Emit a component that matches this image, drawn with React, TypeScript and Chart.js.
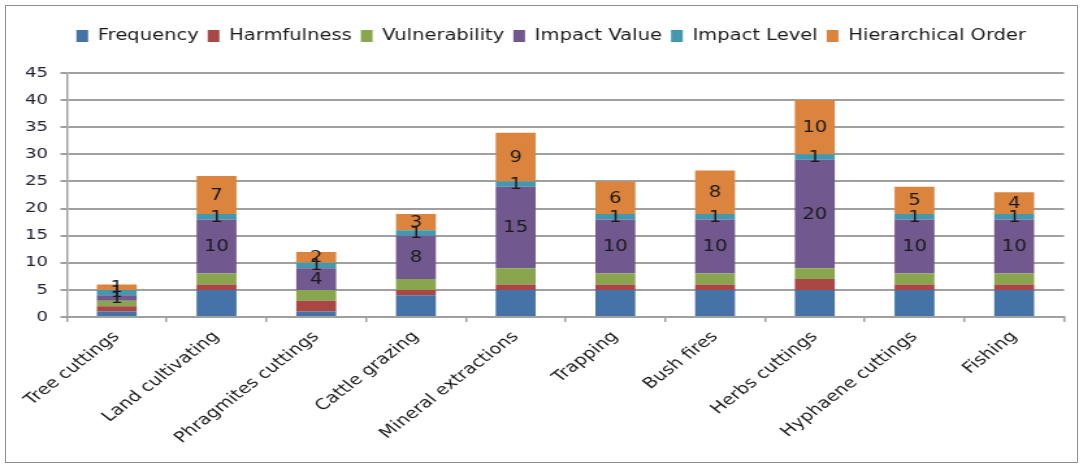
import React, { useEffect, useRef } from "react";
import { Chart, registerables } from "chart.js";

Chart.register(...registerables);

const categories = [
  "Tree cuttings",
  "Land cultivating",
  "Phragmites cuttings",
  "Cattle grazing",
  "Mineral extractions",
  "Trapping",
  "Bush fires",
  "Herbs cuttings",
  "Hyphaene cuttings",
  "Fishing",
];

const frequency = [1, 5, 1, 4, 5, 5, 5, 5, 5, 5];
const harmfulness = [1, 1, 2, 1, 1, 1, 1, 2, 1, 1];
const vulnerability = [1, 2, 2, 2, 3, 2, 2, 2, 2, 2];
const impactValue = [1, 10, 4, 8, 15, 10, 10, 20, 10, 10];
const impactLevel = [1, 1, 1, 1, 1, 1, 1, 1, 1, 1];
const hierarchicalOrder = [1, 7, 2, 3, 9, 6, 8, 10, 5, 4];

const seriesNames = [
  "Frequency",
  "Harmfulness",
  "Vulnerability",
  "Impact Value",
  "Impact Level",
  "Hierarchical Order",
];
const seriesColors = ["#4572A7", "#AA4643", "#89A54E", "#71588F", "#4198AF", "#DB843D"];
const labelledSeries = [3, 4, 5];

const yMin = 0;
const yMax = 45;
const yStep = 5;

// The reference is a chart drawn at a narrower width and stretched horizontally.
const STRETCH = 1.3;
const W = 833;
const H = 468;
const LEGEND_CENTER = 424;

const GRID = "#a0a0a0";
const FONT = "'DejaVu Sans'";

const legendSpacer = {
  id: "legendSpacer",
  beforeInit(chart: any) {
    const legend = chart.legend;
    if (!legend) return;
    const origFit = legend.fit;
    legend.fit = function () {
      origFit.bind(legend)();
      this.height += 19.5;
    };
  },
  afterLayout(chart: any) {
    const legend = chart.legend;
    if (!legend) return;
    const shift = LEGEND_CENTER - (legend.left + legend.right) / 2;
    legend.left += shift;
    legend.right += shift;
  },
};

const valueLabels = {
  id: "valueLabels",
  afterDatasetsDraw(chart: any) {
    const ctx = chart.ctx;
    ctx.save();
    ctx.font = `15px ${FONT}`;
    ctx.fillStyle = "#1a1a1a";
    ctx.textAlign = "center";
    ctx.textBaseline = "middle";
    labelledSeries.forEach((di) => {
      const meta = chart.getDatasetMeta(di);
      meta.data.forEach((el: any, i: number) => {
        const v = chart.data.datasets[di].data[i];
        const y = (el.y + el.base) / 2;
        ctx.fillText(String(v), el.x, y + 1);
      });
    });
    ctx.restore();
  },
};

export default function App() {
  const ref = useRef<HTMLCanvasElement | null>(null);

  useEffect(() => {
    if (!ref.current) return;
    const seriesData = [frequency, harmfulness, vulnerability, impactValue, impactLevel, hierarchicalOrder];
    const chart = new Chart(ref.current, {
      type: "bar",
      data: {
        labels: categories,
        datasets: seriesData.map((d, i) => ({
          label: seriesNames[i],
          data: d,
          backgroundColor: seriesColors[i],
          borderWidth: 0,
          barPercentage: 0.4,
          categoryPercentage: 1,
        })),
      },
      options: {
        animation: false,
        responsive: false,
        maintainAspectRatio: false,
        devicePixelRatio: 1,
        layout: { padding: { top: 21.5, left: 0, right: 14.5, bottom: 0 } },
        plugins: {
          tooltip: { enabled: false },
          legend: {
            position: "top",
            labels: {
              boxWidth: 9,
              boxHeight: 12,
              padding: 7,
              color: "#1a1a1a",
              font: { family: FONT, size: 15 },
            },
          },
        },
        scales: {
          x: {
            stacked: true,
            afterFit(scale: any) {
              scale.height = 151;
            },
            grid: {
              offset: true,
              drawOnChartArea: false,
              drawTicks: true,
              tickLength: 5,
              color: GRID,
              lineWidth: 1.5,
            },
            border: { color: GRID, width: 2 },
            ticks: {
              autoSkip: false,
              minRotation: 45,
              maxRotation: 45,
              padding: 6,
              color: "#1a1a1a",
              font: { family: FONT, size: 15 },
            },
          },
          y: {
            stacked: true,
            min: yMin,
            max: yMax,
            afterFit(scale: any) {
              scale.width = 51.5;
            },
            grid: {
              color: GRID,
              lineWidth: 2,
              drawTicks: true,
              tickLength: 5,
            },
            border: { color: GRID, width: 1.5 },
            ticks: {
              stepSize: yStep,
              padding: 9.5,
              color: "#222233",
              font: { family: FONT, size: 14 },
            },
          },
        },
      },
      plugins: [legendSpacer, valueLabels],
    });
    return () => chart.destroy();
  }, []);

  return (
    <div style={{ position: "fixed", left: 0, top: 0, width: 1083, height: 468, background: "#fff", overflow: "hidden" }}>
      <div
        style={{
          position: "absolute",
          left: 0,
          top: 0,
          width: W,
          height: H,
          transform: `scaleX(${STRETCH})`,
          transformOrigin: "0 0",
        }}
      >
        <canvas ref={ref} width={W} height={H} style={{ display: "block", width: W, height: H }} />
      </div>
      <div
        style={{
          position: "absolute",
          left: 5,
          top: 5,
          width: 1073,
          height: 458,
          border: "1px solid #8f8f8f",
          boxSizing: "border-box",
          pointerEvents: "none",
        }}
      />
    </div>
  );
}
